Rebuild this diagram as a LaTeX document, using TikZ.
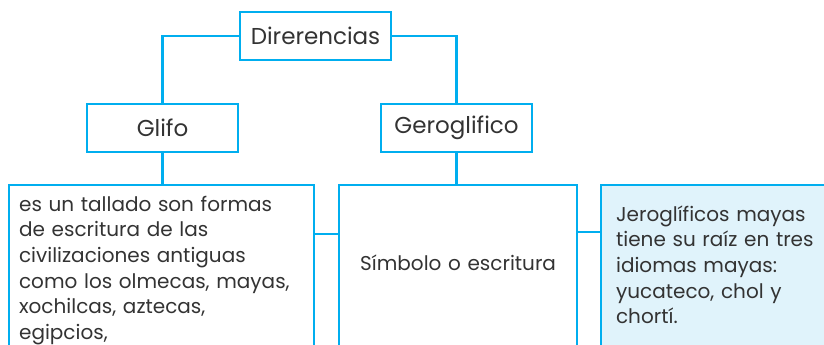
\documentclass[tikz,border=0pt]{standalone}
\usepackage{fontspec}
\setmainfont{Poppins}
\usetikzlibrary{positioning}
\definecolor{cyanline}{HTML}{00AEEF}
\definecolor{paleblue}{HTML}{E0F3FB}
\definecolor{darktext}{HTML}{333333}

\begin{document}
\begin{tikzpicture}[x=1pt,y=-1pt]
  \tikzstyle{box}=[rectangle,draw=cyanline,line width=2.2pt,text=darktext,inner sep=0pt]
  \tikzstyle{head box}=[box,minimum width=151pt,minimum height=48pt,
                        font=\fontsize{23}{27}\selectfont]
  \tikzstyle{text box}=[box,anchor=north west,align=left,
                        font=\fontsize{20}{25.7}\selectfont]
  \tikzstyle{link}=[draw=cyanline,line width=2.2pt]

  \clip (0,0) rectangle (824,345);

  \node [head box] (dif)   at (315.5,36)  {Direrencias};
  \node [head box] (glifo) at (162.5,128) {Glifo};
  \node [head box] (gero)  at (456.5,128) {Geroglifico};

  \node [text box,inner xsep=10pt,text width=285pt,text height=26pt,text depth=170pt]
    (civil) at (8,184)
    {es un tallado son formas\\de escritura de las\\civilizaciones antiguas\\
     como los olmecas, mayas,\\xochilcas, aztecas,\\egipcios,};
  \node [text box,align=center,text width=238pt,text height=85pt,text depth=100pt]
    (signo) at (338,184) {Símbolo o escritura};
  \node [text box,fill=paleblue,inner xsep=15pt,text width=230pt,text height=36pt,text depth=150pt]
    (maya) at (600,184)
    {Jeroglíficos mayas\\tiene su raíz en tres\\idiomas mayas:\\yucateco, chol y\\chortí.};

  \draw [link] (dif.west) -| (glifo.north);
  \draw [link] (dif.east) -| (gero.north);
  \draw [link] (glifo.south) -- (glifo.south |- civil.north);
  \draw [link] (gero.south) -- (gero.south |- signo.north);
  \draw [link] ([yshift=-50pt]civil.north east) -- ([yshift=-50pt]civil.north east -| signo.west);
  \draw [link] ([yshift=-48pt]signo.north east) -- ([yshift=-48pt]signo.north east -| maya.west);
\end{tikzpicture}
\end{document}
